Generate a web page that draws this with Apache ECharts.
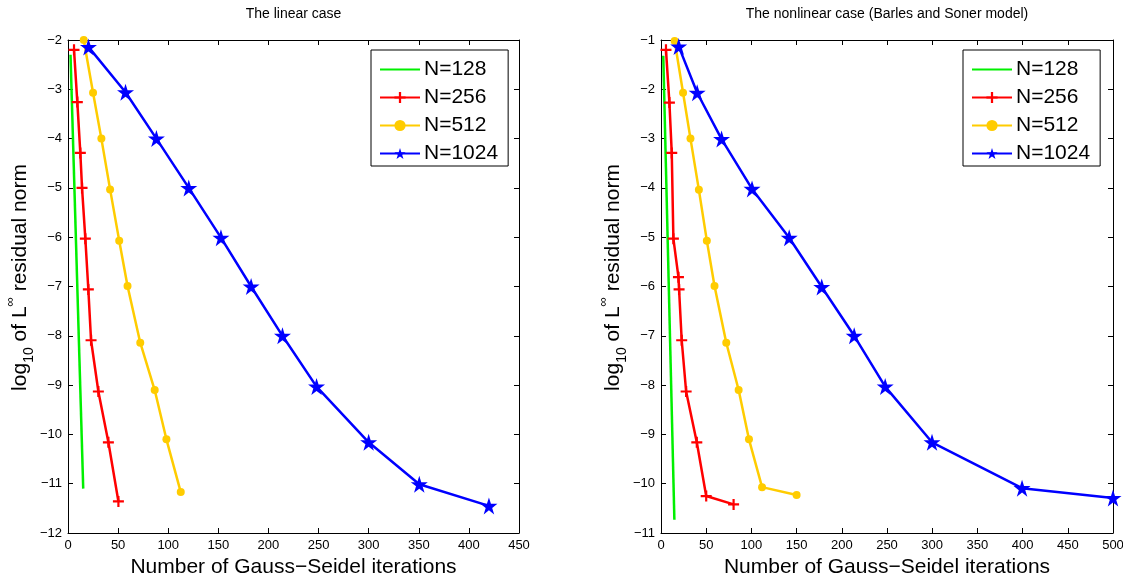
<!DOCTYPE html>
<html><head><meta charset="utf-8">
<script src="https://cdn.jsdelivr.net/npm/echarts@6/dist/echarts.min.js"></script>
<style>html,body{margin:0;padding:0;background:#fff}#c{width:1123px;height:574px}</style>
</head><body><div id="c"></div>
<script>
// ---- data ----
const seriesNames = ['N=128', 'N=256', 'N=512', 'N=1024'];
const titles = ['The linear case', 'The nonlinear case (Barles and Soner model)'];
const xLabel = 'Number of Gauss\u2212Seidel iterations';

// linear case
const linX128 = [2.5, 15.2];
const linY128 = [-2.3, -11.1];
const linX256 = [6, 9.3, 12.3, 14, 17.3, 20.3, 23, 30.3, 40.3, 50.3];
const linY256 = [-2.2, -3.26, -4.29, -5.0, -6.03, -7.06, -8.09, -9.13, -10.16, -11.36];
const linX512 = [15.7, 25, 33.3, 42, 51.1, 59.4, 72.1, 86.5, 98.2, 112.5];
const linY512 = [-2.0, -3.07, -4.0, -5.03, -6.07, -6.99, -8.14, -9.10, -10.1, -11.17];
const linX1024 = [20.4, 57.4, 88.2, 120.5, 152.6, 182.7, 214, 248, 300, 350.5, 420];
const linY1024 = [-2.14, -3.06, -4.0, -5.0, -6.01, -7.0, -8.0, -9.03, -10.16, -11.01, -11.45];

// nonlinear case
const nlX128 = [2.5, 14.8];
const nlY128 = [-1.32, -10.73];
const nlX256 = [5.5, 9.3, 11.9, 13.7, 19.3, 20, 22.9, 27.8, 39.6, 50, 80.3];
const nlY256 = [-1.2, -2.27, -3.29, -5.03, -5.81, -6.06, -7.09, -8.13, -9.16, -10.25, -10.42];
const nlX512 = [15.1, 24.4, 32.6, 41.9, 50.7, 59.2, 72.2, 85.9, 97.3, 111.8, 150];
const nlY512 = [-1.02, -2.07, -3.0, -4.04, -5.07, -5.99, -7.14, -8.10, -9.10, -10.07, -10.23];
const nlX1024 = [19.6, 40, 67, 100.7, 141.8, 177.8, 213.7, 248, 299.8, 399.4, 500];
const nlY1024 = [-1.13, -2.07, -3.01, -4.02, -5.01, -6.01, -7.0, -8.03, -9.16, -10.09, -10.29];

// axis ranges
const linXRange = [0, 450], linYRange = [-12, -2];
const nlXRange = [0, 500], nlYRange = [-11, -1];
const xInterval = 50, yInterval = 1;

// ---- build ----
const zip = (xs, ys) => xs.map((x, i) => [x, ys[i]]);
const colors = ['#00f000', '#ff0000', '#ffcc00', '#0000ff'];
const plusPath = 'path://M0,4H10V6H0Z M4,0H6V10H4Z';
const starPath = 'path://M50,0L61.2,34.5L97.6,34.5L68.2,55.9L79.4,90.5L50,69.1L20.6,90.5L31.8,55.9L2.4,34.5L38.8,34.5Z';
const symbols = ['none', plusPath, 'circle', starPath];
const symSizes = [0, 11, 8, 17];
const fnt = 'Liberation Sans, Arial, sans-serif';
const minusFmt = v => String(v).replace('-', '\u2212');

const grids = [
  { left: 68, top: 40, width: 451, height: 493, outerBoundsMode: 'none', containLabel: false },
  { left: 661, top: 40, width: 452, height: 493, outerBoundsMode: 'none', containLabel: false }
];

function axisBase(show) {
  return {
    axisLine: { show: true, onZero: false, lineStyle: { color: '#000', width: 1 } },
    axisTick: { show: true, inside: true, length: 5, lineStyle: { color: '#000' } },
    splitLine: { show: false },
    axisLabel: { show: show, color: '#000', fontSize: 13, fontFamily: fnt, formatter: minusFmt, margin: 6 }
  };
}
const xAxes = [], yAxes = [];
[[linXRange, linYRange], [nlXRange, nlYRange]].forEach((r, gi) => {
  xAxes.push(Object.assign(axisBase(true), { type: 'value', gridIndex: gi, position: 'bottom', min: r[0][0], max: r[0][1], interval: xInterval,
    name: xLabel, nameLocation: 'middle', nameGap: 17, nameTextStyle: { color: '#000', fontSize: 21, fontFamily: fnt } }));
  xAxes.push(Object.assign(axisBase(false), { type: 'value', gridIndex: gi, position: 'top', min: r[0][0], max: r[0][1], interval: xInterval }));
  yAxes.push(Object.assign(axisBase(true), { type: 'value', gridIndex: gi, position: 'left', min: r[1][0], max: r[1][1], interval: yInterval,
    name: '{a|log}{b|10}{a| of L}{c|\u221e}{a| residual norm}', nameLocation: 'middle', nameGap: 27, nameRotate: 90,
    nameTextStyle: { color: '#000', fontFamily: fnt, fontSize: 21, padding: [0, 0, 0, 18],
      rich: {
        a: { fontSize: 21, fontFamily: fnt, color: '#000', lineHeight: 32, verticalAlign: 'middle' },
        b: { fontSize: 14, fontFamily: fnt, color: '#000', lineHeight: 14, verticalAlign: 'bottom' },
        c: { fontSize: 13, fontFamily: fnt, color: '#000', lineHeight: 13, verticalAlign: 'top' }
      } } }));
  yAxes.push(Object.assign(axisBase(false), { type: 'value', gridIndex: gi, position: 'right', min: r[1][0], max: r[1][1], interval: yInterval }));
});

const dataSets = [
  [zip(linX128, linY128), zip(linX256, linY256), zip(linX512, linY512), zip(linX1024, linY1024)],
  [zip(nlX128, nlY128), zip(nlX256, nlY256), zip(nlX512, nlY512), zip(nlX1024, nlY1024)]
];
const series = [];
dataSets.forEach((sets, gi) => {
  sets.forEach((d, k) => {
    series.push({
      type: 'line', name: seriesNames[k], xAxisIndex: gi * 2, yAxisIndex: gi * 2,
      data: d, clip: false, symbol: symbols[k], symbolSize: symSizes[k], showSymbol: k > 0,
      lineStyle: { color: colors[k], width: 2.5 },
      itemStyle: { color: k === 0 ? 'rgba(0,0,0,0)' : colors[k], borderWidth: 0 },
      emphasis: { disabled: true }, z: 2 + k
    });
  });
});

const legendBase = {
  orient: 'vertical', top: 50, itemWidth: 40, itemHeight: 14, itemGap: 7,
  padding: [9, 10, 2, 8], borderColor: '#000', borderWidth: 1, borderRadius: 0, backgroundColor: '#fff',
  textStyle: { color: '#000', fontSize: 21, fontFamily: fnt, padding: [0, 0, 0, -1] },
  data: seriesNames, selectedMode: false
};

const chart = echarts.init(document.getElementById('c'), null, { renderer: 'canvas' });
chart.setOption({
  animation: false,
  backgroundColor: '#fff',
  grid: grids,
  xAxis: xAxes,
  yAxis: yAxes,
  legend: [Object.assign({ left: 371 }, legendBase), Object.assign({ left: 963 }, legendBase)],
  graphic: titles.map((t, i) => ({
    type: 'text', x: grids[i].left + grids[i].width / 2, y: 14, z: 100,
    style: { text: t, fill: '#000', font: '14px ' + fnt, textAlign: 'center', textVerticalAlign: 'middle' }
  })),
  series: series
});
</script></body></html>
